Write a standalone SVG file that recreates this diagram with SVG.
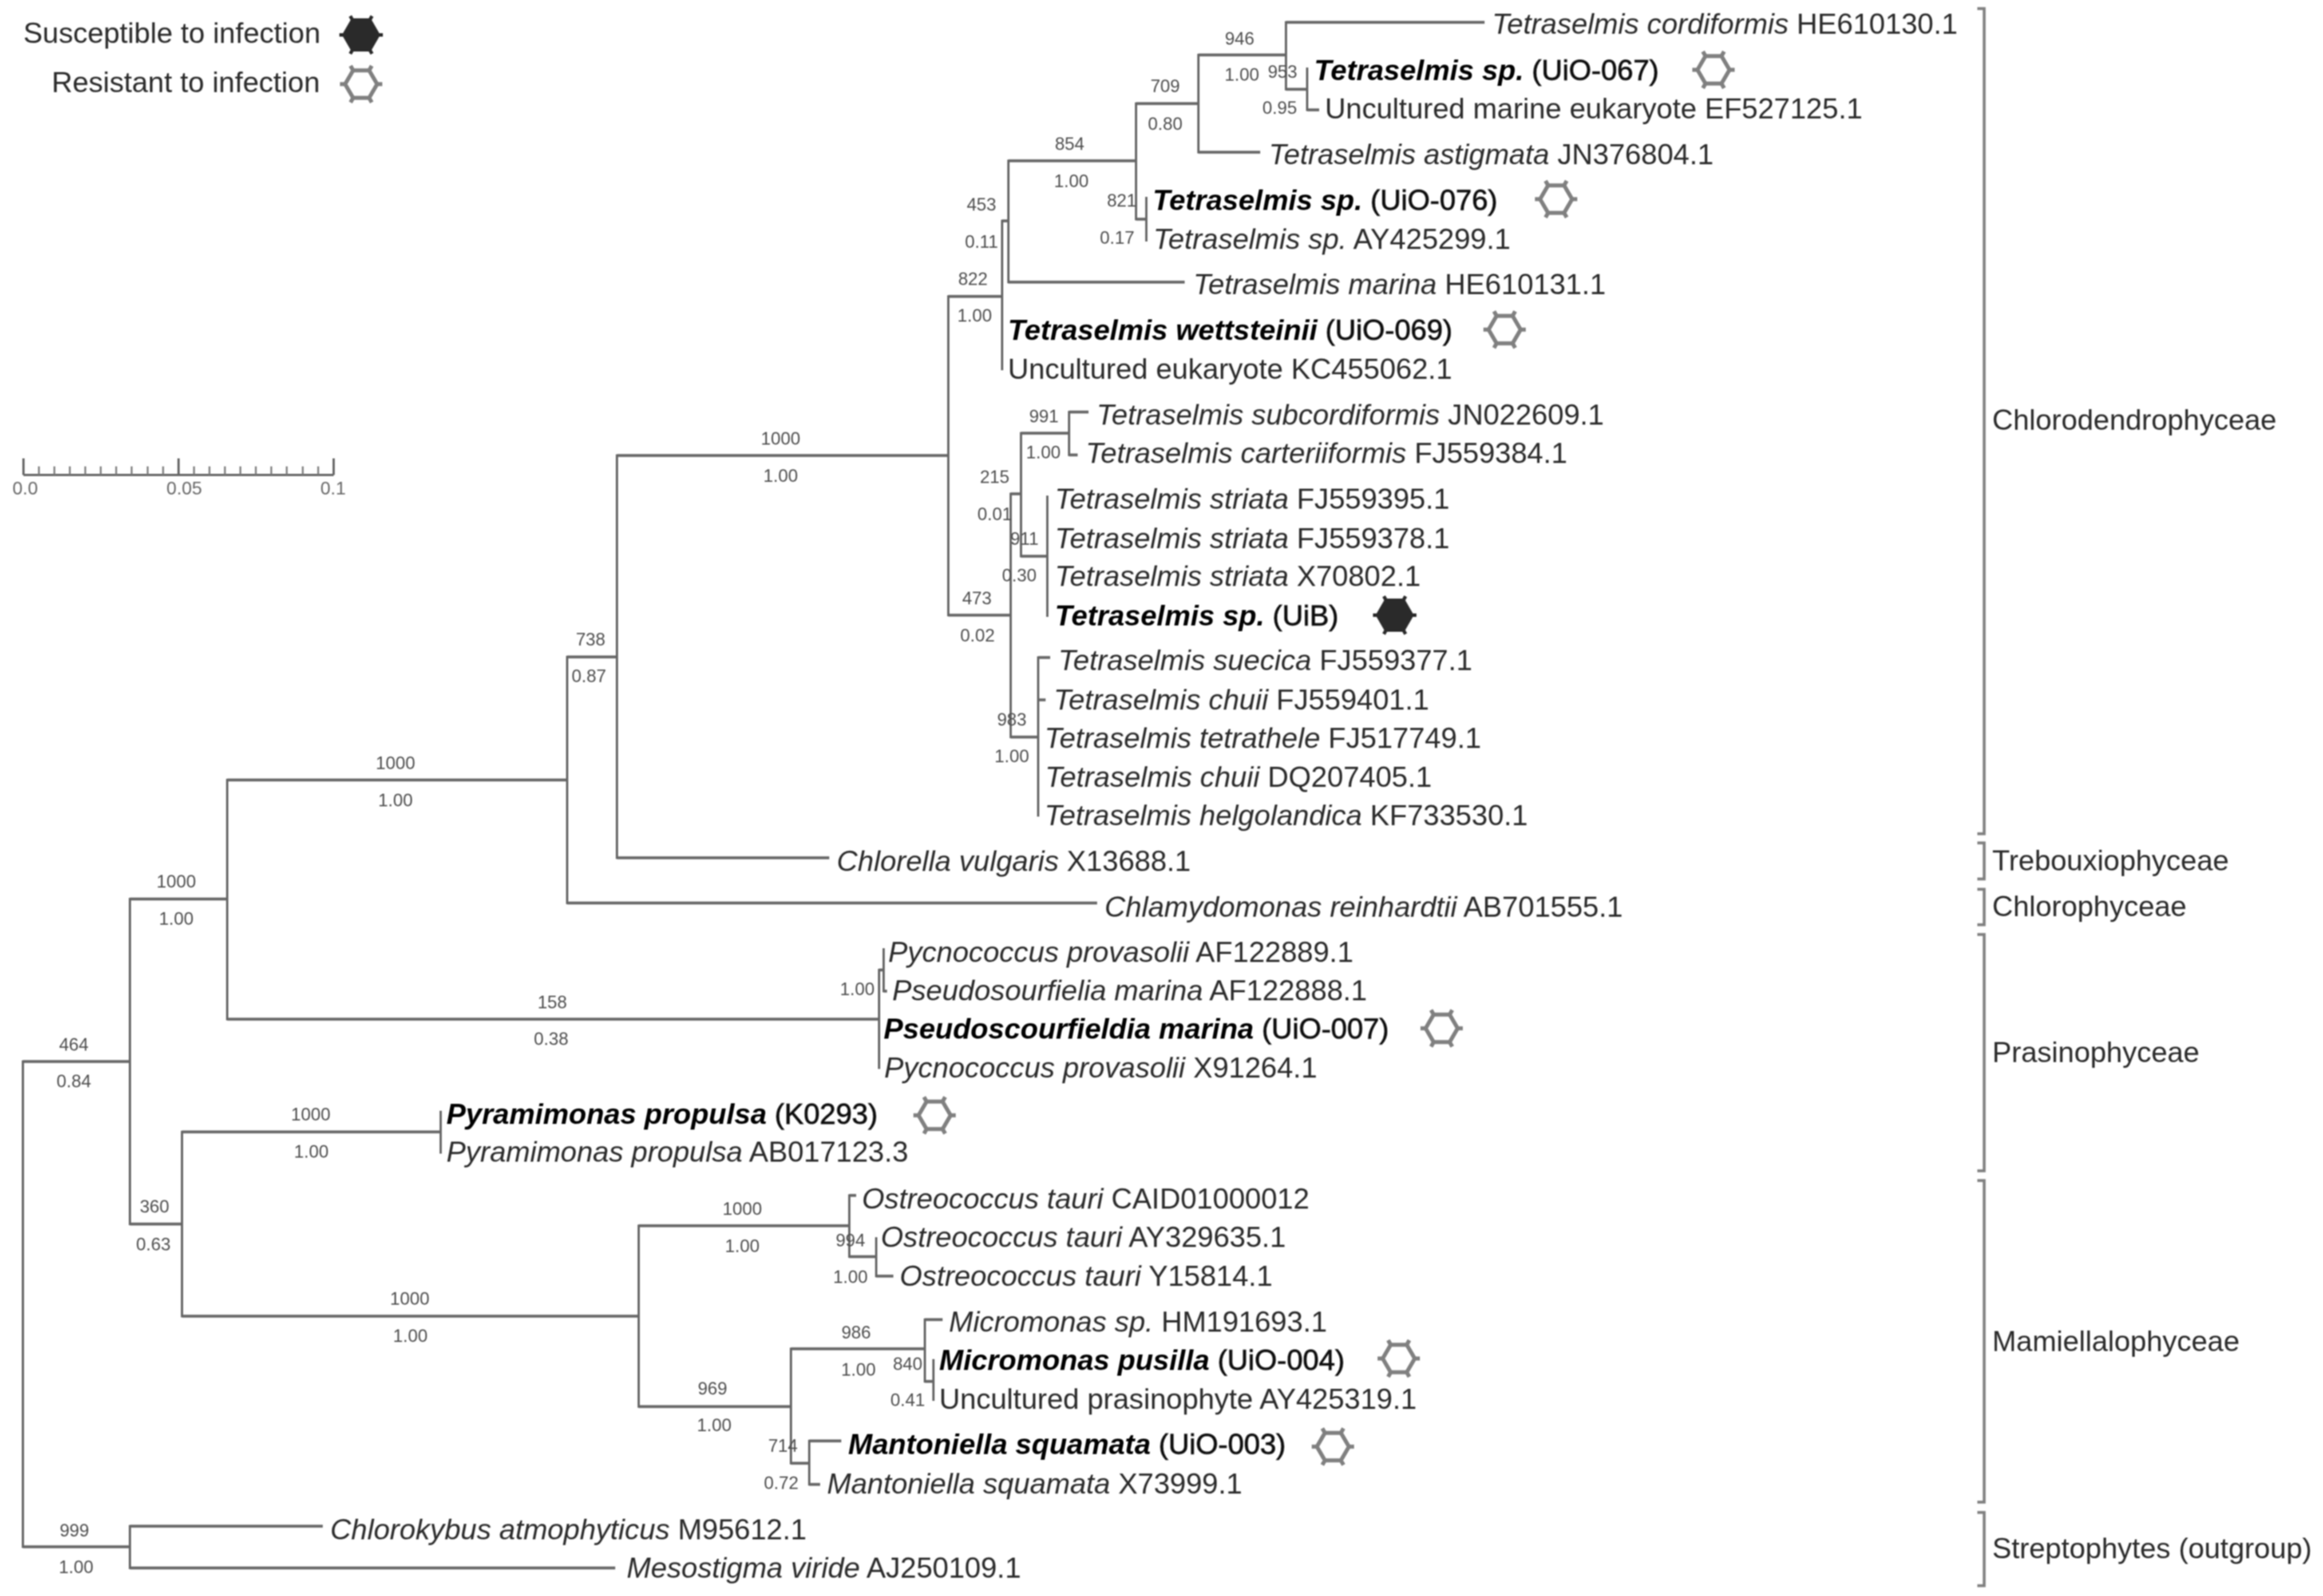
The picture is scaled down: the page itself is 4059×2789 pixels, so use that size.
<svg xmlns="http://www.w3.org/2000/svg" xmlns:xlink="http://www.w3.org/1999/xlink" width="4059" height="2789" viewBox="0 0 4059 2789">
<style>
text{font-family:"Liberation Sans",Arial,sans-serif}
.t{font-size:50.6px;fill:#2a2a2a}
.i{font-style:italic}
.b{font-style:italic;font-weight:bold;fill:#000}
.p{fill:#111;stroke:#111;stroke-width:.9px}
.n{font-size:31px;fill:#4d4d4d;text-anchor:middle}
.s{font-size:32px;fill:#666;text-anchor:middle}
.c{font-size:50.5px;fill:#2a2a2a}
.l{font-size:50.5px;fill:#2a2a2a;text-anchor:end}
.h{fill:none;stroke:#666;stroke-width:5}
.v{fill:none;stroke:#666;stroke-width:4}
.br{fill:none;stroke:#808080;stroke-width:5}
.tk{fill:none;stroke:#666;stroke-width:4}
.tf{fill:none;stroke:#777;stroke-width:3}
</style>
<defs>
<filter id="soft" filterUnits="userSpaceOnUse" x="0" y="0" width="4059" height="2789"><feGaussianBlur stdDeviation="1.1"/></filter>
<path id="sus" d="M-30 0L-15 -26H15L30 0L15 26H-15Z M-30 0H-38 M30 0H38 M15 -26L19 -33 M-15 -26L-19 -33 M15 26L19 33 M-15 26L-19 33" fill="#2b2b2b" stroke="#2b2b2b" stroke-width="6"/>
<path id="res" d="M-28 0L-14 -24H14L28 0L14 24H-14Z M-28 0H-37 M28 0H37 M14 -24L18.500 -32 M-14 -24L-18.500 -32 M14 24L18.500 32 M-14 24L-18.500 32" fill="none" stroke="#808080" stroke-width="7"/>
</defs>
<rect width="4059" height="2789" fill="#fff"/>
<g id="drawing" filter="url(#soft)">
<g id="legend">
<text class="l" x="560" y="75">Susceptible to infection</text>
<use xlink:href="#sus" href="#sus" x="631" y="61"/>
<text class="l" x="559" y="161">Resistant to infection</text>
<use xlink:href="#res" href="#res" x="631" y="147"/>
</g>
<g id="scale-bar">
<path class="tk" d="M41 830H583M41 801V830M312 801V830M583 801V830"/>
<path class="tf" d="M68 815V830M95 815V830M122 815V830M149 815V830M176 815V830M203 815V830M230 815V830M258 815V830M285 815V830M339 815V830M366 815V830M393 815V830M420 815V830M447 815V830M474 815V830M501 815V830M529 815V830M556 815V830"/>
<text class="s" x="44" y="864">0.0</text>
<text class="s" x="322" y="864">0.05</text>
<text class="s" x="582" y="864">0.1</text>
</g>
<g id="connectors">
<path class="h" d="M2247 39H2594M2094 96H2247M2247 156H2284M2284 192H2305M1985 181H2094M2094 266H2202M1762 281H1985M1985 383H2003M1751 386H1762M1762 493H2070M1657 518H1751M1078 796H1657M1657 1075H1766M1766 863H1784M1784 757H1868M1868 720H1902M1868 795H1883M1784 972H1830M1766 1288H1814M1814 1149H1835M1814 1223H1827M991 1148H1078M1078 1499H1449M991 1578H1917M397 1363H991M227 1571H397M397 1781H1536M1536 1695H1544M1544 1732H1550M40 1855H227M227 2139H318M318 1978H770M318 2300H1116M1116 2142H1484M1484 2089H1496M1484 2196H1531M1531 2230H1561M1116 2458H1382M1382 2357H1616M1616 2306H1647M1616 2414H1631M1382 2557H1414M1414 2518H1470M1414 2594H1433M40 2703H227M227 2667H564M227 2740H1075"/>
<path class="v" d="M2247 37V158M2284 118V194M2094 94V268M1985 179V385M2003 344V422M1762 279V495M1751 384V647M1657 516V1077M1766 861V1290M1784 755V974M1868 718V797M1830 866V1078M1814 1147V1427M1078 794V1501M991 1146V1580M397 1361V1783M227 1569V2141M1536 1693V1868M1544 1657V1734M770 1941V2016M318 1976V2302M40 1853V2705M227 2665V2742M1116 2140V2460M1484 2087V2198M1531 2162V2232M1616 2304V2416M1631 2375V2448M1382 2355V2559M1414 2516V2596"/>
</g>
<g id="support-values">
<text class="n" x="2166" y="78">946</text><text class="n" x="2170" y="141">1.00</text>
<text class="n" x="2241" y="136">953</text><text class="n" x="2236" y="199">0.95</text>
<text class="n" x="2036" y="161">709</text><text class="n" x="2036" y="227">0.80</text>
<text class="n" x="1869" y="262">854</text><text class="n" x="1872" y="327">1.00</text>
<text class="n" x="1960" y="361">821</text><text class="n" x="1952" y="426">0.17</text>
<text class="n" x="1715" y="368">453</text><text class="n" x="1715" y="433">0.11</text>
<text class="n" x="1700" y="498">822</text><text class="n" x="1703" y="562">1.00</text>
<text class="n" x="1824" y="738">991</text><text class="n" x="1823" y="801">1.00</text>
<text class="n" x="1738" y="844">215</text><text class="n" x="1738" y="909">0.01</text>
<text class="n" x="1790" y="952">911</text><text class="n" x="1781" y="1016">0.30</text>
<text class="n" x="1707" y="1056">473</text><text class="n" x="1708" y="1121">0.02</text>
<text class="n" x="1768" y="1268">983</text><text class="n" x="1768" y="1332">1.00</text>
<text class="n" x="1364" y="777">1000</text><text class="n" x="1364" y="842">1.00</text>
<text class="n" x="1032" y="1128">738</text><text class="n" x="1029" y="1192">0.87</text>
<text class="n" x="691" y="1344">1000</text><text class="n" x="691" y="1409">1.00</text>
<text class="n" x="308" y="1551">1000</text><text class="n" x="308" y="1616">1.00</text>
<text class="n" x="965" y="1762">158</text><text class="n" x="963" y="1826">0.38</text>
<text class="n" x="1498" y="1739">1.00</text>
<text class="n" x="129" y="1836">464</text><text class="n" x="129" y="1900">0.84</text>
<text class="n" x="543" y="1958">1000</text><text class="n" x="544" y="2023">1.00</text>
<text class="n" x="270" y="2119">360</text><text class="n" x="268" y="2185">0.63</text>
<text class="n" x="716" y="2280">1000</text><text class="n" x="717" y="2345">1.00</text>
<text class="n" x="1297" y="2123">1000</text><text class="n" x="1297" y="2188">1.00</text>
<text class="n" x="1486" y="2178">994</text><text class="n" x="1486" y="2242">1.00</text>
<text class="n" x="1245" y="2437">969</text><text class="n" x="1248" y="2501">1.00</text>
<text class="n" x="1496" y="2339">986</text><text class="n" x="1500" y="2404">1.00</text>
<text class="n" x="1586" y="2394">840</text><text class="n" x="1586" y="2457">0.41</text>
<text class="n" x="1368" y="2537">714</text><text class="n" x="1365" y="2602">0.72</text>
<text class="n" x="130" y="2685">999</text><text class="n" x="133" y="2749">1.00</text>
</g>
<g id="tip-cordiformis"><text class="t" x="2607" y="59"><tspan class="i">Tetraselmis cordiformis</tspan> HE610130.1</text></g>
<g id="tip-uio067"><text class="t" x="2296" y="140"><tspan class="b">Tetraselmis sp.</tspan> <tspan class="p">(UiO-067)</tspan></text><use xlink:href="#res" href="#res" x="2994" y="122"/></g>
<g id="tip-ef527125"><text class="t" x="2315" y="207">Uncultured marine eukaryote EF527125.1</text></g>
<g id="tip-astigmata"><text class="t" x="2217" y="287"><tspan class="i">Tetraselmis astigmata</tspan> JN376804.1</text></g>
<g id="tip-uio076"><text class="t" x="2014" y="367"><tspan class="b">Tetraselmis sp.</tspan> <tspan class="p">(UiO-076)</tspan></text><use xlink:href="#res" href="#res" x="2719" y="348"/></g>
<g id="tip-ay425299"><text class="t" x="2015" y="435"><tspan class="i">Tetraselmis sp.</tspan> AY425299.1</text></g>
<g id="tip-marina"><text class="t" x="2085" y="514"><tspan class="i">Tetraselmis marina</tspan> HE610131.1</text></g>
<g id="tip-uio069"><text class="t" x="1761" y="594"><tspan class="b">Tetraselmis wettsteinii</tspan> <tspan class="p">(UiO-069)</tspan></text><use xlink:href="#res" href="#res" x="2629" y="576"/></g>
<g id="tip-kc455062"><text class="t" x="1761" y="662">Uncultured eukaryote KC455062.1</text></g>
<g id="tip-subcordiformis"><text class="t" x="1916" y="742"><tspan class="i">Tetraselmis subcordiformis</tspan> JN022609.1</text></g>
<g id="tip-carteriiformis"><text class="t" x="1897" y="809"><tspan class="i">Tetraselmis carteriiformis</tspan> FJ559384.1</text></g>
<g id="tip-striata1"><text class="t" x="1843" y="889"><tspan class="i">Tetraselmis striata</tspan> FJ559395.1</text></g>
<g id="tip-striata2"><text class="t" x="1843" y="958"><tspan class="i">Tetraselmis striata</tspan> FJ559378.1</text></g>
<g id="tip-striata3"><text class="t" x="1843" y="1024"><tspan class="i">Tetraselmis striata</tspan> X70802.1</text></g>
<g id="tip-uib"><text class="t" x="1843" y="1093"><tspan class="b">Tetraselmis sp.</tspan> <tspan class="p">(UiB)</tspan></text><use xlink:href="#sus" href="#sus" x="2437" y="1075"/></g>
<g id="tip-suecica"><text class="t" x="1849" y="1171"><tspan class="i">Tetraselmis suecica</tspan> FJ559377.1</text></g>
<g id="tip-chuii1"><text class="t" x="1841" y="1240"><tspan class="i">Tetraselmis chuii</tspan> FJ559401.1</text></g>
<g id="tip-tetrathele"><text class="t" x="1825" y="1307"><tspan class="i">Tetraselmis tetrathele</tspan> FJ517749.1</text></g>
<g id="tip-chuii2"><text class="t" x="1826" y="1375"><tspan class="i">Tetraselmis chuii</tspan> DQ207405.1</text></g>
<g id="tip-helgolandica"><text class="t" x="1825" y="1442"><tspan class="i">Tetraselmis helgolandica</tspan> KF733530.1</text></g>
<g id="tip-chlorella"><text class="t" x="1462" y="1522"><tspan class="i">Chlorella vulgaris</tspan> X13688.1</text></g>
<g id="tip-chlamydomonas"><text class="t" x="1930" y="1602"><tspan class="i">Chlamydomonas reinhardtii</tspan> AB701555.1</text></g>
<g id="tip-pycno1"><text class="t" x="1552" y="1681"><tspan class="i">Pycnococcus provasolii</tspan> AF122889.1</text></g>
<g id="tip-pseudosourfielia"><text class="t" x="1559" y="1748"><tspan class="i">Pseudosourfielia marina</tspan> AF122888.1</text></g>
<g id="tip-uio007"><text class="t" x="1544" y="1815"><tspan class="b">Pseudoscourfieldia marina</tspan> <tspan class="p">(UiO-007)</tspan></text><use xlink:href="#res" href="#res" x="2519" y="1797"/></g>
<g id="tip-pycno2"><text class="t" x="1545" y="1883"><tspan class="i">Pycnococcus provasolii</tspan> X91264.1</text></g>
<g id="tip-k0293"><text class="t" x="780" y="1964"><tspan class="b">Pyramimonas propulsa</tspan> <tspan class="p">(K0293)</tspan></text><use xlink:href="#res" href="#res" x="1633" y="1949"/></g>
<g id="tip-ab017123"><text class="t" x="780" y="2030"><tspan class="i">Pyramimonas propulsa</tspan> AB017123.3</text></g>
<g id="tip-ostreo1"><text class="t" x="1506" y="2112"><tspan class="i">Ostreococcus tauri</tspan> CAID01000012</text></g>
<g id="tip-ostreo2"><text class="t" x="1539" y="2179"><tspan class="i">Ostreococcus tauri</tspan> AY329635.1</text></g>
<g id="tip-ostreo3"><text class="t" x="1572" y="2247"><tspan class="i">Ostreococcus tauri</tspan> Y15814.1</text></g>
<g id="tip-hm191693"><text class="t" x="1658" y="2327"><tspan class="i">Micromonas sp.</tspan> HM191693.1</text></g>
<g id="tip-uio004"><text class="t" x="1641" y="2394"><tspan class="b">Micromonas pusilla</tspan> <tspan class="p">(UiO-004)</tspan></text><use xlink:href="#res" href="#res" x="2444" y="2374"/></g>
<g id="tip-ay425319"><text class="t" x="1641" y="2462">Uncultured prasinophyte AY425319.1</text></g>
<g id="tip-uio003"><text class="t" x="1482" y="2541"><tspan class="b">Mantoniella squamata</tspan> <tspan class="p">(UiO-003)</tspan></text><use xlink:href="#res" href="#res" x="2329" y="2528"/></g>
<g id="tip-x73999"><text class="t" x="1445" y="2610"><tspan class="i">Mantoniella squamata</tspan> X73999.1</text></g>
<g id="tip-chlorokybus"><text class="t" x="577" y="2690"><tspan class="i">Chlorokybus atmophyticus</tspan> M95612.1</text></g>
<g id="tip-mesostigma"><text class="t" x="1095" y="2757"><tspan class="i">Mesostigma viride</tspan> AJ250109.1</text></g>
<g id="class-chlorodendrophyceae"><path class="br" d="M3455 15H3467V1457H3455"/><text class="c" x="3481" y="751">Chlorodendrophyceae</text></g>
<g id="class-trebouxiophyceae"><path class="br" d="M3455 1473H3467V1536H3455"/><text class="c" x="3481" y="1521">Trebouxiophyceae</text></g>
<g id="class-chlorophyceae"><path class="br" d="M3455 1554H3467V1616H3455"/><text class="c" x="3481" y="1601">Chlorophyceae</text></g>
<g id="class-prasinophyceae"><path class="br" d="M3455 1633H3467V2046H3455"/><text class="c" x="3481" y="1856">Prasinophyceae</text></g>
<g id="class-mamiellophyceae"><path class="br" d="M3455 2063H3467V2625H3455"/><text class="c" x="3481" y="2361">Mamiellalophyceae</text></g>
<g id="class-streptophytes"><path class="br" d="M3455 2643H3467V2771H3455"/><text class="c" x="3481" y="2723">Streptophytes (outgroup)</text></g>
</g>
</svg>
